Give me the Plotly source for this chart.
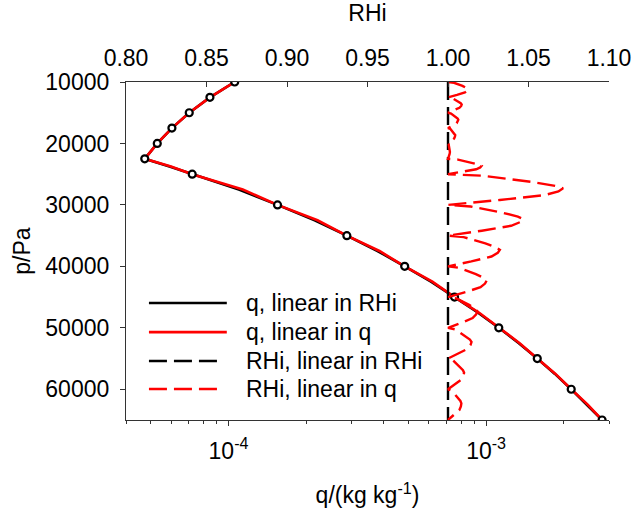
import plotly.graph_objects as go

# ---- data ----
# nodes (pressure levels with markers) and q at nodes
p_nodes = [10000, 12500, 15000, 17500, 20000, 22500, 25000, 30000, 35000,
           40000, 45000, 50000, 55000, 60000, 65000]
q_nodes = [1.057e-4, 8.47e-5, 7.04e-5, 6.03e-5, 5.29e-5, 4.73e-5, 7.23e-5,
           1.55e-4, 2.88e-4, 4.83e-4, 7.54e-4, 1.12e-3, 1.58e-3, 2.14e-3, 2.82e-3]

# q, linear in RHi (black solid)
p_q_rhi = [10000, 12500, 15000, 17500, 20000, 22500, 23750, 25000, 27500, 30000,
           32500, 35000, 37500, 40000, 42500, 45000, 47500, 50000, 52500, 55000,
           57500, 60000, 62500, 65000]
q_q_rhi = [1.057e-4, 8.47e-5, 7.04e-5, 6.03e-5, 5.29e-5, 4.73e-5, 5.90e-5, 7.23e-5,
           1.097e-4, 1.55e-4, 2.16e-4, 2.88e-4, 3.79e-4, 4.83e-4, 6.11e-4, 7.54e-4,
           9.28e-4, 1.12e-3, 1.34e-3, 1.58e-3, 1.85e-3, 2.14e-3, 2.468e-3, 2.82e-3]

# q, linear in q (red solid)
p_q_q = p_q_rhi
q_q_q = [1.057e-4, 8.47e-5, 7.04e-5, 6.03e-5, 5.29e-5, 4.73e-5, 5.98e-5, 7.23e-5,
         1.136e-4, 1.55e-4, 2.215e-4, 2.88e-4, 3.855e-4, 4.83e-4, 6.185e-4, 7.54e-4,
         9.37e-4, 1.12e-3, 1.35e-3, 1.58e-3, 1.86e-3, 2.14e-3, 2.48e-3, 2.82e-3]

# RHi, linear in RHi (black dashed)
p_rhi_rhi = [10000, 65000]
rhi_rhi_rhi = [1.0, 1.0]

# RHi, linear in q (red dashed)
p_rhi_q = [
    10000, 10125, 10625, 10950, 11150, 11400, 11700, 12100,
    12500, 12625, 13125, 13450, 13650, 13900, 14200, 14600,
    15000, 15125, 15625, 15950, 16150, 16400, 16700, 17100,
    17500, 17625, 18125, 18450, 18650, 18900, 19200, 19600,
    20000, 20125, 20625, 20950, 21150, 21400, 21700, 22100,
    22500, 22625, 23125, 23450, 23650, 23900, 24200, 24600,
    25000, 25250, 26250, 26900, 27300, 27800, 28400, 29200,
    30000, 30250, 31250, 31900, 32300, 32800, 33400, 34200,
    35000, 35250, 36250, 36900, 37300, 37800, 38400, 39200,
    40000, 40250, 41250, 41900, 42300, 42800, 43400, 44200,
    45000, 45250, 46250, 46900, 47300, 47800, 48400, 49200,
    50000, 50250, 51250, 51900, 52300, 52800, 53400, 54200,
    55000, 55250, 56250, 56900, 57300, 57800, 58400, 59200,
    60000, 60250, 61250, 61900, 62300, 62800, 63400, 64200,
    65000]
rhi_rhi_q = [
    1.0, 1.00375, 1.0090, 1.0116, 1.0125, 1.0120, 1.0105, 1.0056,
    1.0, 1.0026, 1.0061, 1.0079, 1.0085, 1.0082, 1.0071, 1.0038,
    1.0, 1.0019, 1.0046, 1.0060, 1.0064, 1.0061, 1.0054, 1.0029,
    1.0, 1.0014, 1.0032, 1.0042, 1.0045, 1.0043, 1.0038, 1.0020,
    1.0, 1.0004, 1.0009, 1.0011, 1.0012, 1.0012, 1.0010, 1.0005,
    1.0, 1.0062, 1.0150, 1.0193, 1.0208, 1.0200, 1.0175, 1.0094,
    1.0, 1.0215, 1.0515, 1.0665, 1.0715, 1.0686, 1.0601, 1.0322,
    1.0, 1.0140, 1.0336, 1.0434, 1.0467, 1.0448, 1.0392, 1.0210,
    1.0, 1.0097, 1.0232, 1.0299, 1.0322, 1.0309, 1.0270, 1.0145,
    1.0, 1.0072, 1.0173, 1.0223, 1.0240, 1.0230, 1.0202, 1.0108,
    1.0, 1.0055, 1.0131, 1.0169, 1.0182, 1.0175, 1.0153, 1.0082,
    1.0, 1.0044, 1.0105, 1.0136, 1.0146, 1.0140, 1.0123, 1.0066,
    1.0, 1.0030, 1.0072, 1.0093, 1.0100, 1.0096, 1.0084, 1.0045,
    1.0, 1.0025, 1.0060, 1.0077, 1.0083, 1.0080, 1.0070, 1.0037,
    1.0]

names = ["q, linear in RHi", "q, linear in q", "RHi, linear in RHi", "RHi, linear in q"]

q_ticks = [1e-4, 1e-3]
q_tick_text = ["10<sup>-4</sup>", "10<sup>-3</sup>"]
q_minor = [4e-5, 5e-5, 6e-5, 7e-5, 8e-5, 9e-5, 2e-4, 3e-4, 4e-4, 5e-4, 6e-4,
           7e-4, 8e-4, 9e-4, 2e-3, 3e-3]
p_ticks = [10000, 20000, 30000, 40000, 50000, 60000]
rhi_ticks = [0.80, 0.85, 0.90, 0.95, 1.00, 1.05, 1.10]

FONT = "Liberation Sans, Arial, sans-serif"
FS = 23
AX = "#333333"
DASH = "18px,7px"

fig = go.Figure()
fig.add_trace(go.Scatter(x=q_q_rhi, y=p_q_rhi, mode="lines", name=names[0],
                         line=dict(color="black", width=2.6), xaxis="x", yaxis="y",
                         showlegend=False))
fig.add_trace(go.Scatter(x=q_q_q, y=p_q_q, mode="lines", name=names[1],
                         line=dict(color="red", width=2.6), xaxis="x", yaxis="y",
                         showlegend=False))
fig.add_trace(go.Scatter(x=rhi_rhi_rhi, y=p_rhi_rhi, mode="lines", name=names[2],
                         line=dict(color="black", width=2.4, dash=DASH),
                         xaxis="x2", yaxis="y", showlegend=False))
fig.add_trace(go.Scatter(x=rhi_rhi_q, y=p_rhi_q, mode="lines", name=names[3],
                         line=dict(color="red", width=2.4, dash=DASH),
                         xaxis="x2", yaxis="y", showlegend=False))
fig.add_trace(go.Scatter(x=q_nodes, y=p_nodes, mode="markers",
                         marker=dict(symbol="circle", size=7, color="white",
                                     line=dict(color="black", width=2.2)),
                         xaxis="x", yaxis="y", showlegend=False))

# manual legend (line samples + text)
leg_rows = [0.346, 0.260, 0.1746, 0.0917]
leg_styles = [("black", "solid", 0.2087), ("red", "solid", 0.2087),
              ("black", DASH, 0.191), ("red", DASH, 0.191)]
for yy, (col, dsh, x1), txt in zip(leg_rows, leg_styles, names):
    fig.add_shape(type="line", xref="paper", yref="paper", x0=0.0475, x1=x1,
                  y0=yy, y1=yy, line=dict(color=col, width=2.6, dash=dsh))
    fig.add_annotation(xref="paper", yref="paper", x=0.245, y=yy, text=txt,
                       showarrow=False, xanchor="left", yanchor="middle",
                       font=dict(family=FONT, size=FS, color="black"))

fig.update_layout(
    width=633, height=512,
    margin=dict(l=126, r=24, t=82, b=92, autoexpand=False),
    paper_bgcolor="white", plot_bgcolor="white",
    font=dict(family=FONT, size=FS, color="black"),
    showlegend=False,
    xaxis=dict(type="log", range=[-4.39794, -2.52288], automargin=False,
               tickvals=q_ticks, ticktext=q_tick_text,
               ticks="outside", ticklen=5, tickcolor=AX, tickwidth=1,
               minor=dict(tickvals=q_minor, ticks="outside", ticklen=3,
                          tickcolor=AX, tickwidth=1, showgrid=False),
               showline=True, linecolor=AX, linewidth=1.2, showgrid=False,
               zeroline=False, ticklabelstandoff=5,
               title=dict(text="q/(kg kg<sup>-1</sup>)", standoff=24,
                          font=dict(size=FS))),
    xaxis2=dict(overlaying="x", side="top", anchor="y", range=[0.80, 1.10],
                automargin=False,
                tickvals=rhi_ticks, tickformat=".2f",
                ticks="inside", ticklen=5, tickcolor=AX, tickwidth=1,
                showline=True, linecolor=AX, linewidth=1.2, showgrid=False,
                zeroline=False, ticklabelstandoff=6,
                title=dict(text="RHi", standoff=16, font=dict(size=FS))),
    yaxis=dict(range=[65000, 10000], tickvals=p_ticks, tickformat="d",
               automargin=False,
               ticks="outside", ticklen=5, tickcolor=AX, tickwidth=1,
               showline=True, linecolor=AX, linewidth=1.2, showgrid=False,
               zeroline=False, ticklabelstandoff=6,
               title=dict(text="p/Pa", standoff=8, font=dict(size=FS))),
    yaxis2=dict(overlaying="y", side="right", anchor="x", range=[65000, 10000],
                automargin=False,
                tickvals=p_ticks, showticklabels=False,
                ticks="inside", ticklen=6, tickcolor=AX, tickwidth=1,
                showline=True, linecolor=AX, linewidth=1.2, showgrid=False,
                zeroline=False),
)

fig.write_html("out.html")
